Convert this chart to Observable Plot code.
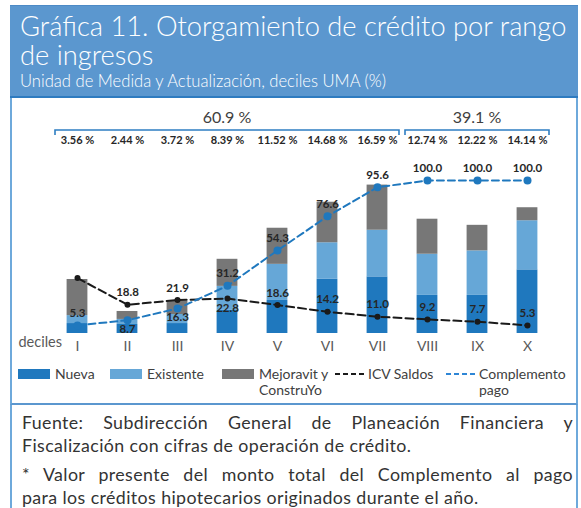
<!DOCTYPE html>
<html>
<head>
<meta charset="utf-8">
<script src="https://cdn.jsdelivr.net/npm/d3@7"></script>
<script src="https://cdn.jsdelivr.net/npm/@observablehq/plot@0.6"></script>
<style>
  html, body { margin: 0; padding: 0; background: #fff; }
  body { font-family: Lato, "Open Sans", sans-serif; }
  #wrap { position: relative; width: 581px; height: 508px; overflow: hidden; }
  #header { position: absolute; left: 10px; top: 5px; width: 568px; height: 90px;
            background: #5B97CF; border-top: 1px solid #4C8AC6; border-bottom: 2px solid #2E7BC0; }
  .tl { position: absolute; left: 10px; color: #fff; font-size: 27.3px; font-weight: 300;
        line-height: 27px; white-space: nowrap; }
  #subtitle { position: absolute; left: 10px; top: 66px; color: #fff; font-size: 16.6px; font-weight: 300; line-height: 18px; }
  #chartbox { position: absolute; left: 10px; top: 98px; width: 564px; height: 305px;
              border-left: 2px solid #6EA9DB; border-right: 2px solid #6EA9DB; border-bottom: 2px solid #5B97CF; }
  #plot { position: absolute; left: 0; top: 97px; }
  #legend { position: absolute; left: 0; top: 364px; width: 581px; height: 36px; font-size: 14px; color: #404040; }
  .li { position: absolute; top: 2px; display: flex; align-items: flex-start; line-height: 16px; }
  .sw { width: 32px; height: 10px; margin-top: 3px; margin-right: 5px; }
  #footer { position: absolute; left: 10px; top: 405px; width: 564px; height: 110px;
            border-left: 2px solid #6EA9DB; border-right: 2px solid #6EA9DB; }
  #footer .p { position: absolute; left: 10px; width: 551px; font-size: 17.8px; letter-spacing: 0.4px; color: #333; line-height: 22.5px; }
  .just { text-align: justify; text-align-last: justify; }
</style>
</head>
<body>
<div id="wrap">
  <div id="header">
    <div class="tl" style="top:6px">Gráfica 11. Otorgamiento de crédito por rango</div>
    <div class="tl" style="top:35px">de ingresos</div>
    <div id="subtitle">Unidad de Medida y Actualización, deciles UMA (%)</div>
  </div>
  <div id="chartbox"></div>
  <div id="plot"></div>
  <div id="legend"></div>
  <div id="footer">
    <div class="p" style="top:6px">
      <div class="just">Fuente: Subdirección General de Planeación Financiera y</div>
      <div>Fiscalización con cifras de operación de crédito.</div>
    </div>
    <div class="p" style="top:58px">
      <div class="just">* Valor presente del monto total del Complemento al pago</div>
      <div>para los créditos hipotecarios originados durante el año.</div>
    </div>
  </div>
</div>
<script>
// ---- data ----
const deciles = ["I", "II", "III", "IV", "V", "VI", "VII", "VIII", "IX", "X"];
const tipos = ["Nueva", "Existente", "Mejoravit y ConstruYo"];
const nueva = [6.5, 5.9, 6.5, 15.1, 21.6, 35.4, 37.0, 24.9, 24.9, 41.6];
const existente = [5.2, 3.3, 5.9, 15.7, 23.6, 23.9, 30.5, 26.9, 29.1, 32.1];
const mejoravit = [23.6, 5.2, 8.8, 17.7, 23.6, 26.5, 29.5, 22.9, 16.7, 8.5];
const icvSaldos = [36.2, 18.8, 21.9, 22.8, 18.6, 14.2, 11.0, 9.2, 7.7, 5.3];
const complemento = [5.3, 8.7, 16.3, 31.2, 54.3, 76.6, 95.6, 100.0, 100.0, 100.0];
const participacion = [3.56, 2.44, 3.72, 8.39, 11.52, 14.68, 16.59, 12.74, 12.22, 14.14];
const grupoEtiquetas = ["60.9 %", "39.1 %"];
const grupoDesde = ["I", "VIII"];
const grupoHasta = ["VII", "X"];
// label placement (above / below the point); null = no label
const icvLabelPos = [null, "above", "above", "below", "above", "above", "above", "above", "above", "above"];
const compLabelPos = ["above", "below", "below", "above", "above", "above", "above", "above", "above", "above"];

// ---- styles ----
const colNueva = "#1F78BE", colExist = "#66A7D7", colMejor = "#777777";
const colICV = "#1a1a1a", colComp = "#1F78BE";

const barRows = [];
deciles.forEach((d, i) => {
  barRows.push({decil: d, tipo: tipos[0], valor: nueva[i]});
  barRows.push({decil: d, tipo: tipos[1], valor: existente[i]});
  barRows.push({decil: d, tipo: tipos[2], valor: mejoravit[i]});
});
const icvRows = deciles.map((d, i) => ({decil: d, v: icvSaldos[i], pos: icvLabelPos[i]}));
const compRows = deciles.map((d, i) => ({decil: d, v: complemento[i], pos: compLabelPos[i]}));
const partRows = deciles.map((d, i) => ({decil: d, t: participacion[i].toFixed(2) + " %"}));
const grupos = grupoEtiquetas.map((g, i) => ({label: g, from: grupoDesde[i], to: grupoHasta[i]}));

const W = 581, H = 263;
const marginTop = 83, marginBottom = 27, marginLeft = 50, marginRight = 28;

function brackets(index, scales, values, dimensions) {
  const x = scales.x;
  const bw = x.bandwidth();
  const g = d3.create("svg:g");
  const yLine = marginTop - 50;
  grupos.forEach(gr => {
    const x1 = x(gr.from) + 3;
    const x2 = x(gr.to) + bw - 3;
    g.append("path")
      .attr("d", `M${x1},${yLine + 5}V${yLine}H${x2}V${yLine + 5}`)
      .attr("fill", "none").attr("stroke", "#2E7EC2").attr("stroke-width", 1.6);
    g.append("text")
      .attr("x", (x1 + x2) / 2).attr("y", yLine - 7)
      .attr("text-anchor", "middle")
      .attr("font-size", 16).attr("fill", "#404040")
      .attr("font-family", "Lato, sans-serif")
      .text(gr.label);
  });
  return g.node();
}

const labelFont = {fontSize: 11.5, fontWeight: "bold", fill: "#262626"};

const chart = Plot.plot({
  width: W, height: H,
  marginTop, marginBottom, marginLeft, marginRight,
  style: {fontFamily: "Lato, sans-serif", background: "transparent", overflow: "visible"},
  x: {domain: deciles, padding: 0, tickSize: 0, tickPadding: 8, label: null},
  y: {domain: [0, 100], axis: null},
  color: {domain: tipos, range: [colNueva, colExist, colMejor]},
  marks: [
    Plot.barY(barRows, {x: "decil", y: "valor", fill: "tipo", insetLeft: 14.6, insetRight: 14.6}),
    Plot.line(icvRows, {x: "decil", y: "v", stroke: colICV, strokeWidth: 2, strokeDasharray: "8,4"}),
    Plot.dot(icvRows, {x: "decil", y: "v", fill: colICV, r: 3}),
    Plot.line(compRows, {x: "decil", y: "v", stroke: colComp, strokeWidth: 2, strokeDasharray: "7,4"}),
    Plot.dot(compRows, {x: "decil", y: "v", fill: colComp, r: 4}),
    Plot.text(icvRows.filter(d => d.pos === "above"), {x: "decil", y: "v", text: d => d.v.toFixed(1), dy: -12, ...labelFont}),
    Plot.text(icvRows.filter(d => d.pos === "below"), {x: "decil", y: "v", text: d => d.v.toFixed(1), dy: 10, ...labelFont}),
    Plot.text(compRows.filter(d => d.pos === "above"), {x: "decil", y: "v", text: d => d.v.toFixed(1), dy: -12, ...labelFont}),
    Plot.text(compRows.filter(d => d.pos === "below"), {x: "decil", y: "v", text: d => d.v.toFixed(1), dy: 9, ...labelFont}),
    Plot.text(partRows, {x: "decil", text: "t", frameAnchor: "top", dy: -44, fontSize: 11, fontWeight: "bold", fill: "#262626"}),
    Plot.text(["deciles"], {frameAnchor: "bottom-left", textAnchor: "start", dx: -32, dy: 13, fontSize: 14.5, fill: "#595959"}),
    brackets
  ]
});
chart.querySelectorAll('g[aria-label="x-axis tick label"]').forEach(el => {
  el.setAttribute("font-size", 14); el.setAttribute("fill", "#595959");
});
document.getElementById("plot").appendChild(chart);

// ---- legend ----
const legend = document.getElementById("legend");
const items = [
  {x: 18, type: "sw", color: colNueva, text: "Nueva"},
  {x: 110, type: "sw", color: colExist, text: "Existente"},
  {x: 222, type: "sw", color: colMejor, text: "Mejoravit y<br>ConstruYo"},
  {x: 335, type: "dash", color: "#1a1a1a", text: "ICV Saldos"},
  {x: 446, type: "dash", color: "#2E86D6", text: "Complemento<br>pago"}
];
items.forEach(it => {
  const d = document.createElement("div");
  d.className = "li";
  d.style.left = it.x + "px";
  let key;
  if (it.type === "sw") {
    key = `<div class="sw" style="background:${it.color}"></div>`;
  } else {
    key = `<svg width="32" height="16" style="margin-right:1px"><line x1="0" x2="32" y1="8" y2="8" stroke="${it.color}" stroke-width="2" stroke-dasharray="5,3"/></svg>`;
  }
  d.innerHTML = key + `<div>${it.text}</div>`;
  legend.appendChild(d);
});
</script>
</body>
</html>
